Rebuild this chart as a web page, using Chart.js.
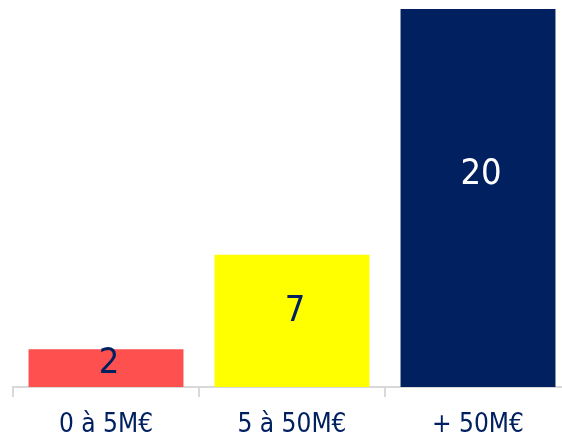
<!DOCTYPE html>
<html>
<head>
<meta charset="utf-8">
<script src="https://cdn.jsdelivr.net/npm/chart.js@4/dist/chart.umd.min.js"></script>
<style>
  html, body { margin: 0; padding: 0; background: #fff; overflow: hidden; }
  #wrap { width: 580px; height: 438px; }
</style>
</head>
<body>
<div id="wrap"><canvas id="chart" width="580" height="438"></canvas></div>
<script>
const categories = ['0 à 5M€', '5 à 50M€', '+ 50M€'];
const values = [2, 7, 20];
const barColors = ['#FF5050', '#FFFF00', '#002060'];
const labelColors = ['#002060', '#002060', '#FFFFFF'];

const FONT = "'Liberation Sans Narrow', 'DejaVu Sans Condensed', sans-serif";

// draws the value inside each bar
const valueLabels = {
    id: 'valueLabels',
    afterDatasetsDraw(chart) {
        const ctx = chart.ctx;
        const meta = chart.getDatasetMeta(0);
        ctx.save();
        ctx.font = '36px ' + FONT;
        ctx.textAlign = 'center';
        ctx.textBaseline = 'middle';
        meta.data.forEach((bar, i) => {
            const h = bar.base - bar.y;
            ctx.fillStyle = labelColors[i];
            ctx.fillText(String(values[i]), bar.x + 3, bar.base - h * 0.556 - 2);
        });
        ctx.restore();
    }
};

new Chart(document.getElementById('chart').getContext('2d'), {
    type: 'bar',
    data: {
        labels: categories,
        datasets: [{
            data: values,
            backgroundColor: barColors,
            borderWidth: 0,
            barPercentage: 0.833,
            categoryPercentage: 1
        }]
    },
    options: {
        responsive: false,
        devicePixelRatio: 1,
        animation: false,
        layout: { padding: { left: 13, right: 9, top: 9, bottom: 0 } },
        plugins: {
            legend: { display: false },
            tooltip: { enabled: false }
        },
        scales: {
            x: {
                grid: {
                    offset: true,
                    drawOnChartArea: false,
                    drawTicks: true,
                    tickLength: 10,
                    color: '#D9D9D9',
                    lineWidth: 2
                },
                border: { display: true, color: '#D9D9D9', width: 2 },
                ticks: {
                    color: '#002060',
                    padding: 13,
                    font: { family: FONT, size: 26 }
                },
                afterFit(scale) { scale.height = 51; }
            },
            y: {
                display: false,
                min: 0,
                max: 20
            }
        }
    },
    plugins: [valueLabels]
});
</script>
</body>
</html>
